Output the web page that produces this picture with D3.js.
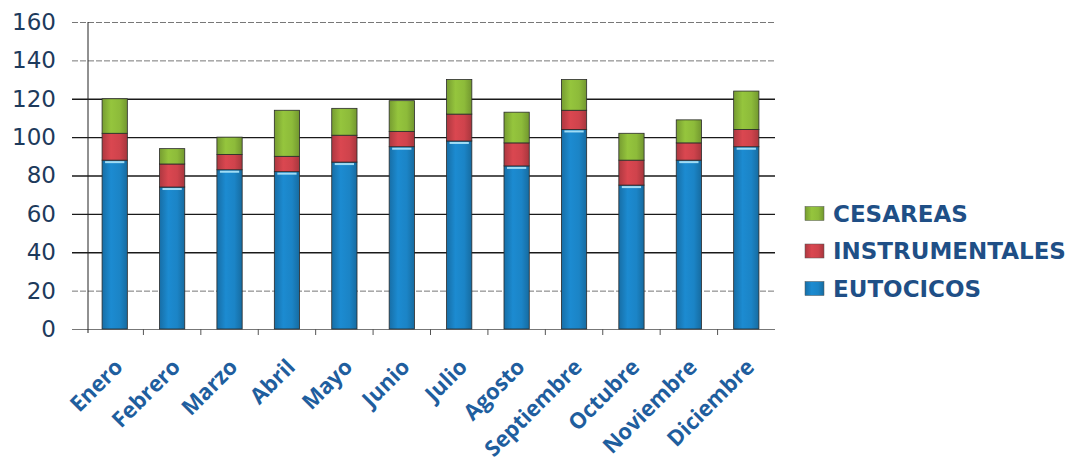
<!DOCTYPE html>
<html>
<head>
    <meta charset="utf-8">
    <title>Partos por mes</title>
    <script src="https://cdn.jsdelivr.net/npm/d3@7"></script>
    <style>
        body { margin: 0; background: #fff; }
    </style>
</head>
<body>
    <svg width="1085" height="468" id="mainsvg"></svg>
    <script>
        const months = ['Enero', 'Febrero', 'Marzo', 'Abril', 'Mayo', 'Junio', 'Julio',
            'Agosto', 'Septiembre', 'Octubre', 'Noviembre', 'Diciembre'];
        const eutocicos = [88, 74, 83, 82, 87, 95, 98, 85, 104, 75, 88, 95];
        const instrumentales = [14, 12, 8, 8, 14, 8, 14, 12, 10, 13, 9, 9];
        const cesareas = [18, 8, 9, 24, 14, 16, 18, 16, 16, 14, 12, 20];
        const seriesNames = ['EUTOCICOS', 'INSTRUMENTALES', 'CESAREAS'];
        const seriesColors = ['#1b84c6', '#cf434c', '#8dbb3a'];
        const yTicks = [0, 20, 40, 60, 80, 100, 120, 140, 160];

        const svg = d3.select('#mainsvg');
        const margin = { top: 22, left: 86, right: 310, bottom: 139 };
        const width = +svg.attr('width');
        const height = +svg.attr('height');

        // rows for the stack
        const table = months.map((m, i) => ({
            month: m,
            EUTOCICOS: eutocicos[i],
            INSTRUMENTALES: instrumentales[i],
            CESAREAS: cesareas[i]
        }));
        const stacked = d3.stack().keys(seriesNames)(table);

        const xScale = d3.scaleBand()
            .domain(months)
            .range([margin.left, width - margin.right])
            .paddingInner(0.56)
            .paddingOuter(0.28);
        const yScale = d3.scaleLinear()
            .domain([0, 160])
            .range([height - margin.bottom, margin.top]);
        const color = d3.scaleOrdinal().domain(seriesNames).range(seriesColors);

        // soft shading on the bars
        const defs = svg.append('defs');
        seriesNames.forEach(name => {
            const c = d3.color(color(name));
            const grad = defs.append('linearGradient').attr('id', 'g-' + name)
                .attr('x1', '0%').attr('x2', '100%').attr('y1', '0%').attr('y2', '0%');
            grad.append('stop').attr('offset', '0%').attr('stop-color', c.darker(0.5));
            grad.append('stop').attr('offset', '35%').attr('stop-color', c.brighter(0.15));
            grad.append('stop').attr('offset', '70%').attr('stop-color', c);
            grad.append('stop').attr('offset', '100%').attr('stop-color', c.darker(0.6));
        });

        // gridlines + y axis
        const yAxis = d3.axisLeft(yScale)
            .tickValues(yTicks)
            .tickSize(-(width - margin.right - margin.left + 14))
            .tickPadding(10);
        const yAxisGroup = svg.append('g')
            .attr('transform', `translate(${margin.left - 14}, 0)`)
            .call(yAxis);
        yAxisGroup.select('.domain').remove();
        yAxisGroup.selectAll('.tick line')
            .attr('stroke', d => (d === 0 || d === 20 || d >= 140) ? '#777' : '#1a1a1a')
            .attr('stroke-dasharray', d => (d === 20 || d >= 140) ? '6,2' : null)
            .attr('stroke-width', d => (d === 0 || d === 20 || d >= 140) ? 1 : 1.3)
            .attr('x1', 0);
        yAxisGroup.selectAll('.tick text')
            .attr('x', -16)
            .attr('fill', '#1d3a5c')
            .attr('font-family', 'DejaVu Sans')
            .attr('font-size', '23px');

        // vertical axis line
        svg.append('line')
            .attr('x1', margin.left + 2).attr('x2', margin.left + 2)
            .attr('y1', yScale(160)).attr('y2', yScale(0) + 4)
            .attr('stroke', '#222');

        // bars
        svg.append('g').selectAll('g').data(stacked).join('g')
            .attr('fill', d => `url(#g-${d.key})`)
            .selectAll('rect').data(d => d).join('rect')
            .attr('x', d => xScale(d.data.month))
            .attr('y', d => yScale(d[1]))
            .attr('width', xScale.bandwidth())
            .attr('height', d => yScale(d[0]) - yScale(d[1]))
            .attr('stroke', '#2a2a2a')
            .attr('stroke-width', 0.8);

        // highlight at top of the blue segments
        svg.append('g').selectAll('rect').data(stacked[0]).join('rect')
            .attr('x', d => xScale(d.data.month) + 3)
            .attr('y', d => yScale(d[1]) + 1)
            .attr('width', xScale.bandwidth() - 6)
            .attr('height', 2)
            .attr('fill', '#9fdcf5');

        // x axis ticks and labels
        const xAxis = d3.axisBottom(xScale).tickSize(0).tickPadding(0);
        const xAxisGroup = svg.append('g')
            .attr('transform', `translate(0, ${yScale(0)})`)
            .call(xAxis);
        xAxisGroup.select('.domain').remove();
        xAxisGroup.selectAll('.tick text')
            .attr('text-anchor', 'end')
            .attr('transform', 'translate(4, 34) rotate(-45)')
            .attr('dy', '0.35em')
            .attr('fill', '#1f5e9e')
            .attr('font-family', 'Open Sans')
            .attr('font-weight', 'bold')
            .attr('font-size', '22px');
        months.forEach((m, i) => {
            if (i === 0) return;
            const xp = xScale(m) - xScale.step() * xScale.paddingInner() / 2;
            svg.append('line')
                .attr('x1', xp).attr('x2', xp)
                .attr('y1', yScale(0)).attr('y2', yScale(0) + 6)
                .attr('stroke', '#555');
        });

        // legend
        const legendRows = seriesNames.slice().reverse();
        const legend = svg.append('g').attr('transform', 'translate(805, 213.5)');
        legendRows.forEach((name, i) => {
            const row = legend.append('g').attr('transform', `translate(0, ${i * 37.5})`);
            row.append('rect')
                .attr('x', 0).attr('y', -7)
                .attr('width', 19).attr('height', 14)
                .attr('fill', `url(#g-${name})`)
                .attr('stroke', '#555').attr('stroke-width', 0.5);
            row.append('text')
                .attr('x', 28).attr('y', 0)
                .attr('dy', '0.36em')
                .attr('fill', '#1f4f86')
                .attr('font-family', 'DejaVu Sans')
                .attr('font-weight', 'bold')
                .attr('font-size', '23px')
                .text(name);
        });
    </script>
</body>
</html>
